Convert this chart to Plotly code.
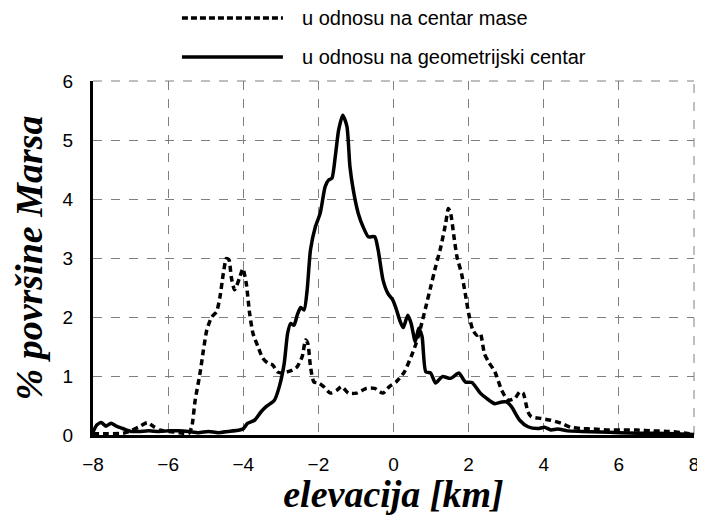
import plotly.graph_objects as go

# elevation [km] and % of Mars surface
geo_x = [-8.0, -7.9, -7.78, -7.65, -7.52, -7.38, -7.21, -6.99, -6.77, -6.51, -6.24, -5.98,
         -5.72, -5.46, -5.19, -4.93, -4.67, -4.40, -4.14, -4.01, -3.88, -3.70, -3.53, -3.39,
         -3.17, -3.04, -2.91, -2.82, -2.74, -2.65, -2.56, -2.47, -2.38, -2.30, -2.21, -2.08,
         -1.95, -1.82, -1.73, -1.64, -1.55, -1.46, -1.35, -1.24, -1.16, -1.07, -0.94, -0.81,
         -0.67, -0.50, -0.41, -0.28, -0.15, -0.02, 0.07, 0.18, 0.26, 0.38, 0.47, 0.58, 0.67,
         0.76, 0.86, 0.99, 1.12, 1.30, 1.52, 1.74, 1.91, 2.09, 2.31, 2.48, 2.70, 2.88, 3.01,
         3.14, 3.36, 3.58, 3.84, 4.02, 4.19, 4.37, 4.63, 5.0, 5.5, 6.0, 6.5, 7.0, 7.5, 8.0]
geo_y = [0.05, 0.17, 0.21, 0.15, 0.20, 0.15, 0.11, 0.06, 0.06, 0.07, 0.06, 0.07,
         0.07, 0.06, 0.04, 0.06, 0.04, 0.06, 0.08, 0.10, 0.20, 0.25, 0.39, 0.48,
         0.59, 0.82, 1.21, 1.72, 1.89, 1.86, 2.04, 2.16, 2.12, 2.45, 3.14, 3.53,
         3.76, 4.21, 4.32, 4.35, 4.72, 5.17, 5.42, 5.23, 4.55, 4.15, 3.76, 3.53,
         3.36, 3.36, 3.14, 2.63, 2.40, 2.29, 2.14, 1.92, 1.82, 2.03, 1.89, 1.58, 1.81,
         1.67, 1.07, 1.05, 0.88, 0.99, 0.96, 1.05, 0.90, 0.89, 0.71, 0.62, 0.53, 0.56, 0.56,
         0.48, 0.25, 0.14, 0.11, 0.13, 0.085, 0.10, 0.07, 0.06, 0.05, 0.04, 0.03, 0.03, 0.02, 0.01]

mass_x = [-8.0, -7.6, -7.2, -7.03, -6.77, -6.55, -6.38, -6.20, -5.98, -5.7, -5.45, -5.37,
          -5.28, -5.15, -5.06, -4.97, -4.84, -4.71, -4.62, -4.53, -4.45, -4.38, -4.32, -4.23,
          -4.09, -4.01, -3.92, -3.83, -3.74, -3.61, -3.48, -3.35, -3.22, -3.09, -2.96, -2.83,
          -2.69, -2.56, -2.43, -2.34, -2.28, -2.21, -2.12, -1.99, -1.86, -1.68, -1.51, -1.38,
          -1.20, -0.98, -0.72, -0.50, -0.28, -0.11, 0.07, 0.29, 0.47, 0.60, 0.73, 0.86, 0.99,
          1.12, 1.26, 1.39, 1.46, 1.52, 1.61, 1.69, 1.81, 1.91, 2.0, 2.11, 2.22, 2.31, 2.42,
          2.53, 2.70, 2.88, 3.05, 3.23, 3.36, 3.45, 3.58, 3.67, 3.93, 4.19, 4.46, 4.72, 4.98,
          5.33, 5.68, 6.04, 6.47, 6.91, 7.35, 7.79, 8.0]
mass_y = [0.02, 0.02, 0.03, 0.06, 0.14, 0.21, 0.14, 0.08, 0.06, 0.04, 0.03, 0.14,
          0.59, 1.05, 1.44, 1.78, 2.0, 2.09, 2.34, 2.74, 2.99, 2.97, 2.68, 2.46,
          2.68, 2.82, 2.57, 2.06, 1.72, 1.50, 1.30, 1.22, 1.19, 1.07, 1.05, 1.07,
          1.10, 1.16, 1.33, 1.61, 1.55, 1.16, 0.90, 0.88, 0.82, 0.71, 0.76, 0.82,
          0.71, 0.71, 0.79, 0.79, 0.71, 0.82, 0.90, 1.07, 1.33, 1.55, 1.84, 2.17, 2.51,
          2.85, 3.19, 3.59, 3.84, 3.76, 3.36, 3.02, 2.74, 2.40, 2.06, 1.78, 1.69, 1.72, 1.38,
          1.24, 1.07, 0.76, 0.59, 0.62, 0.73, 0.71, 0.39, 0.31, 0.28, 0.25, 0.20, 0.13, 0.11,
          0.10, 0.085, 0.085, 0.085, 0.07, 0.06, 0.03, 0.01]

legend_names = ['u odnosu na centar mase', 'u odnosu na geometrijski centar']

X_RANGE = [-8, 8]
Y_RANGE = [0, 6]

SANS = 'Liberation Sans, Arial, sans-serif'
SERIF = 'Liberation Serif, Times New Roman, serif'
GRID = '#7f7f7f'

fig = go.Figure()

fig.add_trace(go.Scatter(
    x=mass_x, y=mass_y, mode='lines', name=legend_names[0],
    line=dict(color='black', width=3.5, dash='6px,4px', shape='spline', smoothing=0.6),
    showlegend=False
))
fig.add_trace(go.Scatter(
    x=geo_x, y=geo_y, mode='lines', name=legend_names[1],
    line=dict(color='black', width=3.5, shape='spline', smoothing=0.6),
    showlegend=False
))

# plotly skips grid lines at the far edges, the original has them
# (paper refs so they are not clipped by the plot area)
fig.add_shape(type='line', xref='paper', yref='paper', x0=0, x1=1, y0=1, y1=1,
              line=dict(color=GRID, width=1, dash='dash'), layer='below')
fig.add_shape(type='line', xref='paper', yref='paper', x0=1, x1=1, y0=0, y1=1,
              line=dict(color=GRID, width=1, dash='dash'), layer='below')

# hand-drawn legend so the line samples are long like in the original
legend_rows = [(1.178, 'dash'), (1.068, 'solid')]
for (ly, dash), name in zip(legend_rows, legend_names):
    fig.add_shape(type='line', xref='paper', yref='paper',
                  x0=0.148, x1=0.316, y0=ly, y1=ly,
                  line=dict(color='black', width=3.5, dash='6px,3px' if dash == 'dash' else 'solid'))
    fig.add_annotation(xref='paper', yref='paper', x=0.345, y=ly, text=name,
                       showarrow=False, xanchor='left', yanchor='middle',
                       font=dict(family=SANS, size=20, color='black'))

# page body has an 8px margin, so the figure is 8px smaller than the window
fig.update_layout(
    width=697, height=507,
    margin=dict(l=85, r=6, t=73, b=80),
    paper_bgcolor='white', plot_bgcolor='white',
    xaxis=dict(
        range=X_RANGE, dtick=2, tick0=-8,
        showgrid=True, gridcolor=GRID, gridwidth=1, griddash='dash',
        showline=True, linecolor='black', linewidth=3,
        zeroline=False, ticks='', ticklabelstandoff=10, ticklabeloverflow='allow',
        tickfont=dict(family=SANS, size=19, color='black'),
        title=dict(text='elevacija [km]', standoff=6,
                   font=dict(family=SERIF, size=38, color='black', style='italic', weight='bold'))
    ),
    yaxis=dict(
        range=Y_RANGE, dtick=1,
        showgrid=True, gridcolor=GRID, gridwidth=1, griddash='dash',
        showline=True, linecolor='black', linewidth=3,
        zeroline=False, ticks='', ticklabelstandoff=13,
        tickfont=dict(family=SANS, size=19, color='black'),
        title=dict(text='% površine Marsa', standoff=12,
                   font=dict(family=SERIF, size=38, color='black', style='italic', weight='bold'))
    ),
)

fig.write_html("out.html")
